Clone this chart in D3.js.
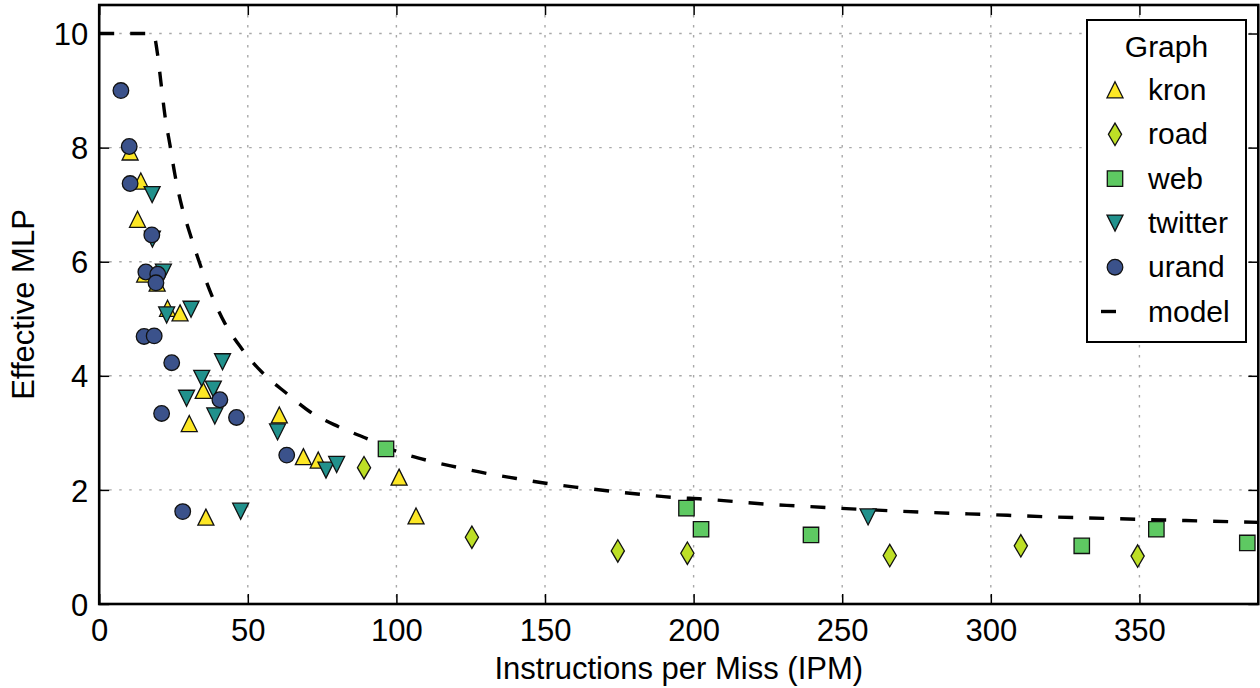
<!DOCTYPE html>
<html>
<head>
<meta charset="utf-8">
<script src="https://cdn.jsdelivr.net/npm/d3@7"></script>
<style>
  html, body { margin: 0; padding: 0; background: #fff; }
  svg { display: block; font-family: "Liberation Sans", Arial, Helvetica, sans-serif; }
</style>
</head>
<body>
<svg id="chart" width="1260" height="688"></svg>
<script>
// Effective memory-level parallelism vs. instructions per miss, per input graph
const xTicks = [0, 50, 100, 150, 200, 250, 300, 350];
const yTicks = [0, 2, 4, 6, 8, 10];

const kron = [
  [10.4, 7.92], [14.0, 7.41], [12.9, 6.74], [15.3, 5.78], [19.5, 5.62],
  [23.0, 5.18], [27.2, 5.10], [35.0, 3.74], [30.3, 3.16], [60.6, 3.31],
  [68.7, 2.58], [73.7, 2.52], [100.9, 2.22], [106.6, 1.54], [35.9, 1.52]
];
const road = [
  [89.1, 2.39], [125.4, 1.17], [174.5, 0.93], [197.9, 0.89],
  [266.0, 0.85], [310.1, 1.02], [349.4, 0.84]
];
const web = [
  [96.5, 2.72], [197.6, 1.68], [202.5, 1.31], [239.5, 1.21],
  [330.6, 1.02], [355.7, 1.31], [386.3, 1.07]
];
const twitter = [
  [17.8, 7.18], [17.9, 6.40], [21.6, 5.82], [22.7, 5.07], [30.9, 5.17],
  [41.5, 4.25], [34.5, 3.96], [38.4, 3.77], [29.4, 3.61], [38.9, 3.30],
  [60.0, 3.02], [76.3, 2.35], [79.9, 2.45], [47.6, 1.63], [258.7, 1.53]
];
const urand = [
  [7.3, 9.00], [10.1, 8.02], [10.4, 7.37], [17.7, 6.47], [15.7, 5.82],
  [19.7, 5.78], [19.1, 5.63], [15.1, 4.69], [18.5, 4.70], [24.4, 4.23],
  [40.6, 3.58], [21.0, 3.34], [46.2, 3.27], [63.1, 2.61], [28.1, 1.62]
];
const model = [
  [0, 10], [18.2, 10], [19.6, 9.65], [20.8, 9.13], [22.1, 8.57], [23.8, 8.05],
  [25.5, 7.52], [27.7, 6.99], [30.5, 6.50], [34.1, 5.93], [37.8, 5.42],
  [42.3, 4.92], [47.9, 4.48], [55.2, 4.04], [63.1, 3.69], [70.9, 3.37],
  [80.4, 3.11], [90.5, 2.89], [98.9, 2.70], [110.2, 2.52], [120.2, 2.40],
  [130.3, 2.29], [140.4, 2.20], [151.1, 2.11], [161.7, 2.04], [171.8, 1.98],
  [182.5, 1.92], [192.6, 1.87], [203.2, 1.84], [224.5, 1.75], [234.6, 1.72],
  [255.9, 1.66], [276.7, 1.61], [297.9, 1.57], [318.7, 1.53], [339.4, 1.50],
  [360.2, 1.47], [390, 1.43]
];

const seriesList = [
  { name: "kron",    data: kron,    shape: "triUp",   color: "#fde725" },
  { name: "road",    data: road,    shape: "diamond", color: "#bddf26" },
  { name: "web",     data: web,     shape: "square",  color: "#5ec962" },
  { name: "twitter", data: twitter, shape: "triDown", color: "#21918c" },
  { name: "urand",   data: urand,   shape: "circle",  color: "#3b528b" }
];

const svg = d3.select("#chart");
const plotLeft = 99.2, plotRight = 1258.3, plotTop = 5, plotBottom = 604;

const x = d3.scaleLinear().domain([0, 390]).range([plotLeft, plotRight]);
const y = d3.scaleLinear().domain([0, 10.5]).range([plotBottom, plotTop]);

// marker path builders, centred on the origin
function markerPath(shape) {
  switch (shape) {
    case "triUp":   return "M0,-8.2L8,7.8L-8,7.8Z";
    case "triDown": return "M0,8.2L8,-7.8L-8,-7.8Z";
    case "diamond": return "M0,-11.2L6.6,0L0,11.2L-6.6,0Z";
    case "square":  return "M-7.7,-7.7H7.7V7.7H-7.7Z";
    default:        return "M7.8,0A7.8,7.8 0 1,1 -7.8,0A7.8,7.8 0 1,1 7.8,0Z";
  }
}

svg.append("defs").append("clipPath").attr("id", "plotClip")
  .append("rect").attr("x", plotLeft).attr("y", plotTop)
  .attr("width", plotRight - plotLeft).attr("height", plotBottom - plotTop);

// dotted grid
const grid = svg.append("g").attr("stroke", "#a8a8a8").attr("stroke-width", 1.4)
  .attr("stroke-dasharray", "2.5,7.5");
grid.selectAll(".gx").data(xTicks.filter(d => d > 0)).join("line")
  .attr("x1", d => x(d)).attr("x2", d => x(d)).attr("y1", plotTop).attr("y2", plotBottom);
grid.selectAll(".gy").data(yTicks.filter(d => d > 0)).join("line")
  .attr("y1", d => y(d)).attr("y2", d => y(d)).attr("x1", plotLeft).attr("x2", plotRight);

// axes: ticks pointing inwards on all four sides
const tickLen = 10;
const fontSize = 31;
const axB = svg.append("g").attr("transform", `translate(0,${plotBottom})`)
  .call(d3.axisBottom(x).tickValues(xTicks).tickSizeInner(-tickLen).tickSizeOuter(0).tickPadding(14));
const axT = svg.append("g").attr("transform", `translate(0,${plotTop})`)
  .call(d3.axisTop(x).tickValues(xTicks).tickSizeInner(-tickLen).tickSizeOuter(0).tickFormat(""));
const axL = svg.append("g").attr("transform", `translate(${plotLeft},0)`)
  .call(d3.axisLeft(y).tickValues(yTicks).tickSizeInner(-tickLen).tickSizeOuter(0).tickPadding(11));
const axR = svg.append("g").attr("transform", `translate(${plotRight},0)`)
  .call(d3.axisRight(y).tickValues(yTicks).tickSizeInner(-tickLen).tickSizeOuter(0).tickFormat(""));
[axB, axT, axL, axR].forEach(a => {
  a.select(".domain").remove();
  a.selectAll(".tick line").attr("stroke", "#000").attr("stroke-width", 1.5);
  a.selectAll("text").attr("font-size", fontSize).attr("font-family", null).attr("fill", "#000");
});
axB.selectAll(".tick text").attr("dy", null).attr("y", 37);
axL.selectAll(".tick text").attr("dy", "0.36em");

// model curve
svg.append("path")
  .datum(model)
  .attr("clip-path", "url(#plotClip)")
  .attr("fill", "none")
  .attr("stroke", "#000")
  .attr("stroke-width", 3.4)
  .attr("stroke-dasharray", "15,16")
  .attr("d", d3.line().x(d => x(d[0])).y(d => y(d[1])).curve(d3.curveMonotoneX));

// scatter markers, one group per input graph
seriesList.forEach(s => {
  svg.append("g").selectAll("path").data(s.data).join("path")
    .attr("d", markerPath(s.shape))
    .attr("transform", d => `translate(${x(d[0])},${y(d[1])})`)
    .attr("fill", s.color)
    .attr("stroke", "#111")
    .attr("stroke-width", 1.3);
});

// frame
svg.append("rect").attr("x", plotLeft).attr("y", plotTop)
  .attr("width", plotRight - plotLeft).attr("height", plotBottom - plotTop)
  .attr("fill", "none").attr("stroke", "#000").attr("stroke-width", 2.6);

// axis titles
svg.append("text").attr("x", (plotLeft + plotRight) / 2).attr("y", 679)
  .attr("text-anchor", "middle").attr("font-size", fontSize)
  .text("Instructions per Miss (IPM)");
svg.append("text")
  .attr("transform", `translate(34,${(plotTop + plotBottom) / 2}) rotate(-90)`)
  .attr("text-anchor", "middle").attr("font-size", fontSize)
  .text("Effective MLP");

// legend
const lg = svg.append("g");
lg.append("rect").attr("x", 1087).attr("y", 20).attr("width", 159).attr("height", 322)
  .attr("fill", "#fff").attr("stroke", "#000").attr("stroke-width", 2);
lg.append("text").attr("x", 1166.5).attr("y", 57).attr("text-anchor", "middle")
  .attr("font-size", 30).text("Graph");
const rowY = i => 100 + i * 44.3;
seriesList.forEach((s, i) => {
  lg.append("path").attr("d", markerPath(s.shape))
    .attr("transform", `translate(1115,${rowY(i) - 10})`)
    .attr("fill", s.color).attr("stroke", "#111").attr("stroke-width", 1.3);
  lg.append("text").attr("x", 1148).attr("y", rowY(i)).attr("font-size", 30).text(s.name);
});
lg.append("line").attr("x1", 1101).attr("x2", 1116)
  .attr("y1", rowY(5) - 10).attr("y2", rowY(5) - 10)
  .attr("stroke", "#000").attr("stroke-width", 3.4);
lg.append("text").attr("x", 1148).attr("y", rowY(5)).attr("font-size", 30).text("model");
</script>
</body>
</html>
